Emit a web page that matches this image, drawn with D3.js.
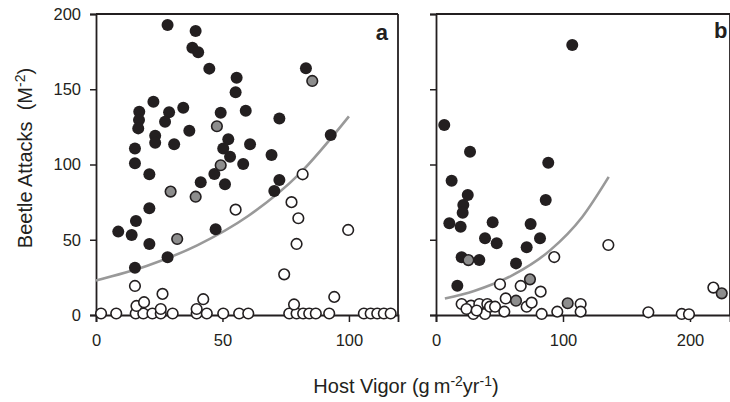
<!DOCTYPE html>
<html><head><meta charset="utf-8">
<script src="https://cdn.jsdelivr.net/npm/d3@7"></script>
<style>body{margin:0;background:#fff}svg{display:block;font-family:"Liberation Sans",Arial,sans-serif}</style>
</head><body><svg id="c" width="730" height="402"></svg>
<script>
// Panel a data: [host vigor, beetle attacks]
const aFilled = [[28.3,192.7],[39.4,188.7],[38.1,177.6],[40.4,174.6],[44.8,163.7],[55.6,157.7],[55.2,148],[22.7,141.7],[17.1,135],[17,129.6],[16.7,124],[28.9,134.7],[27.3,128.4],[34.5,137.7],[49.3,134.4],[36.9,122.5],[23.4,119.1],[23.4,114.5],[30.9,113.4],[15.4,110.7],[52.3,116.7],[50.3,110.7],[53,105.2],[15.4,100.8],[83,164],[59.2,135.7],[72.5,130.6],[92.8,119.6],[60.9,113.4],[58.2,100.3],[69.4,106.3],[72.5,89.7],[70.5,82.4],[21.1,93.5],[41.4,88.2],[46.8,93.7],[51,86.8],[21.1,70.9],[15.8,62.5],[8.8,55.4],[14.1,53.2],[21.1,47.2],[47.3,56.9],[28.3,38.3],[15.4,31.4]];
const aGray = [[47.8,125.4],[49.3,99.5],[85.5,155.5],[29.5,82],[39.4,78.6],[32.1,50.5]];
const aOpen = [[2,1],[8,1],[15.7,1],[18.7,1],[22.3,1],[25.6,1],[30.3,1],[39.8,1],[43.8,1],[50.3,1],[56.6,1],[60.2,1],[76.4,1],[79.3,1],[81.9,1],[84.3,1],[86.9,1],[92.2,1],[105.9,1],[108.6,1],[111.2,1],[113.8,1],[116.5,1],[16,6],[19,8.5],[25.6,4],[26.3,14],[39.8,4],[42.4,10.5],[78.3,7],[94.2,12],[74.4,27],[15.4,19.3],[55.2,70],[81.7,93.5],[77.3,75],[80,64.3],[79.3,47.2],[99.7,56.5]];
const aTrend = [[0,23],[20,32.6],[40,46.3],[60,65.6],[80,93.1],[100,132]];

// Panel b data
const bFilled = [[6.5,126.2],[26.8,108.5],[88.4,101.2],[107.3,179.4],[12.3,89.2],[25,79.7],[21.5,73.1],[21,68],[10.5,60.9],[19.4,58.7],[44.6,61.6],[74.5,60.5],[38.6,51],[47.8,47.6],[81.9,51],[71.4,45],[86.4,76.4],[20.2,38.3],[34.1,36.5],[63,34.3],[16.8,19.5]];
const bGray = [[25.5,36.5],[74,23.7],[63,9.5],[103.7,7.8],[225,14.4]];
const bOpen = [[20.2,7.3],[27.6,6.2],[29.4,0.7],[34.1,7.3],[38.6,0.7],[40.4,7.3],[42.5,5.5],[46.5,5.5],[50.4,20.4],[53.8,2.2],[54.9,11],[66.7,19.3],[71.4,5.5],[75.3,8.2],[82.4,15.5],[83.2,0.7],[93.1,38.5],[95.5,2.2],[113.9,7.3],[113.9,2.2],[135.7,46.5],[167.2,1.8],[193.5,0.7],[199.2,0.5],[218.4,18.2],[24,4],[32,3]];
const bTrend = [[7,11],[30,16],[60,26.3],[90,43.1],[115,65],[136,91.8]];

const yTicks = [0,50,100,150,200];
const aXTicks = [0,50,100];
const bXTicks = [0,100,200];

const svg = d3.select("#c");
const ink = "#231f20";
const y = d3.scaleLinear().domain([0,200]).range([315,14]);

function panel(xDom, xRange, open, gray, filled, trend, xTicks, label, labelX, labelY, showYLabels){
  const x = d3.scaleLinear().domain(xDom).range(xRange);
  const g = svg.append("g");
  g.append("line").attr("x1",xRange[0]).attr("x2",xRange[1]).attr("y1",y(200)).attr("y2",y(200)).attr("stroke",ink).attr("stroke-width",1.8);
  g.append("line").attr("x1",xRange[1]).attr("x2",xRange[1]).attr("y1",y(200)).attr("y2",y(0)).attr("stroke",ink).attr("stroke-width",1.8);
  const ya = g.append("g").attr("transform",`translate(${xRange[0]},0)`)
    .call(d3.axisLeft(y).tickValues(yTicks).tickSize(6).tickPadding(9).tickFormat(showYLabels? d3.format("d") : ""));
  const xa = g.append("g").attr("transform",`translate(0,${y(0)})`)
    .call(d3.axisBottom(x).tickValues(xTicks).tickSize(7).tickPadding(12).tickFormat(d3.format("d")));
  [ya,xa].forEach(a=>{
    a.select(".domain").attr("stroke",ink).attr("stroke-width",1.8);
    a.selectAll(".tick line").attr("stroke",ink).attr("stroke-width",1.5);
    a.selectAll("text").attr("fill",ink).style("font-size","16.5px").style("font-family","Liberation Sans, Arial, sans-serif");
  });
  const line = d3.line().x(d=>x(d[0])).y(d=>y(d[1])).curve(d3.curveMonotoneX);
  g.append("path").datum(trend).attr("d",line).attr("fill","none").attr("stroke","#999").attr("stroke-width",2.6);
  g.selectAll(".o").data(open).enter().append("circle").attr("cx",d=>x(d[0])).attr("cy",d=>y(d[1])).attr("r",5.3)
    .attr("fill","#fff").attr("stroke",ink).attr("stroke-width",1.6);
  g.selectAll(".f").data(filled).enter().append("circle").attr("cx",d=>x(d[0])).attr("cy",d=>y(d[1])).attr("r",6)
    .attr("fill",ink);
  g.selectAll(".g").data(gray).enter().append("circle").attr("cx",d=>x(d[0])).attr("cy",d=>y(d[1])).attr("r",5.3)
    .attr("fill","#8d8d8d").attr("stroke",ink).attr("stroke-width",1.6);
  g.append("text").attr("x",labelX).attr("y",labelY).attr("text-anchor","end").attr("fill",ink)
    .style("font-size","22px").style("font-weight","bold").text(label);
}

panel([0,119.4],[96,398],aOpen,aGray,aFilled,aTrend,aXTicks,"a",388,39.5,true);
panel([0,231.5],[436,730],bOpen,bGray,bFilled,bTrend,bXTicks,"b",727.5,37.5,false);

// axis titles
const yt = svg.append("text").attr("transform","translate(32,158) rotate(-90)").attr("text-anchor","middle")
  .attr("fill",ink).style("font-size","20px");
yt.append("tspan").text("Beetle Attacks\u00a0\u00a0(M");
yt.append("tspan").attr("dy",-7).style("font-size","14px").text("-2");
yt.append("tspan").attr("dy",7).text(")");

const xt = svg.append("text").attr("x",406).attr("y",393).attr("text-anchor","middle").attr("fill",ink).style("font-size","20px");
xt.append("tspan").text("Host Vigor (g\u2009m");
xt.append("tspan").attr("dy",-7).style("font-size","14px").text("-2");
xt.append("tspan").attr("dy",7).text("yr");
xt.append("tspan").attr("dy",-7).style("font-size","14px").text("-1");
xt.append("tspan").attr("dy",7).text(")");
</script></body></html>
